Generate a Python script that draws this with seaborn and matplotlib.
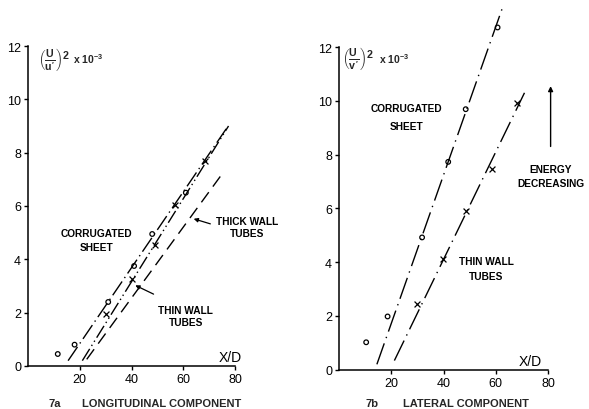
import pandas as pd
import matplotlib
matplotlib.use('Agg')
import matplotlib.pyplot as plt
import seaborn as sns

# 7a longitudinal component
long_corr_x = [11.5, 18, 31, 41, 48, 61]
long_corr_y = [0.45, 0.8, 2.4, 3.75, 4.95, 6.5]
long_thin_x = [30, 40, 49, 57, 68.5]
long_thin_y = [1.95, 3.25, 4.55, 6.05, 7.7]

# fitted lines (end points)
long_corr_line_x = [15.5, 77]
long_corr_line_y = [0.2, 8.95]
long_thin_line_x = [21, 77.5]
long_thin_line_y = [0.2, 9.0]
long_thick_line_x = [22.7, 75]
long_thick_line_y = [0.25, 7.2]

# 7b lateral component
lat_corr_x = [10.4, 18.6, 31.8, 41.8, 48.5, 60.7]
lat_corr_y = [1.02, 1.98, 4.92, 7.73, 9.69, 12.73]
lat_thin_x = [29.9, 39.9, 48.8, 58.7, 68.3]
lat_thin_y = [2.44, 4.11, 5.89, 7.46, 9.91]

lat_corr_line_x = [14.5, 62.7]
lat_corr_line_y = [0.2, 13.5]
lat_thin_line_x = [21.2, 71]
lat_thin_line_y = [0.34, 10.3]

x_ticks = [20, 40, 60, 80]
y_ticks = [0, 2, 4, 6, 8, 10, 12]

sns.set_theme(style='ticks')
plt.rcParams['font.family'] = ['Liberation Sans', 'DejaVu Sans']
plt.rcParams['mathtext.fontset'] = 'custom'
plt.rcParams['mathtext.rm'] = 'Liberation Sans:bold'
plt.rcParams['mathtext.it'] = 'Liberation Sans:bold'
plt.rcParams['mathtext.bf'] = 'Liberation Sans:bold'

fig = plt.figure(figsize=(5.89, 4.10), dpi=100)
ax1 = fig.add_axes([28 / 589, 43 / 410, 207 / 589, 320 / 410])
ax2 = fig.add_axes([339 / 589, 39.3 / 410, 209 / 589, 371 / 410])

lab = dict(fontsize=7.3, fontweight='bold', ha='center', va='center', color='black')
dashdot = (0, (12, 3, 1, 3))


def style_axis(ax, ytop):
    ax.set_xlim(0, 80)
    ax.set_ylim(0, ytop)
    ax.set_xticks(x_ticks)
    ax.set_yticks(y_ticks)
    ax.spines['left'].set_bounds(0, 12)
    sns.despine(ax=ax)
    for s in ['left', 'bottom']:
        ax.spines[s].set_color('black')
        ax.spines[s].set_linewidth(1.1)
    ax.tick_params(axis='both', colors='black', labelsize=9, width=1,
                   length=3, pad=2)
    ax.set_xlabel('')
    ax.set_ylabel('')
    ax.set_facecolor('none')


# ---- 7a
ax1.plot(long_corr_line_x, long_corr_line_y, color='black', lw=1, ls=dashdot)
ax1.plot(long_thin_line_x, long_thin_line_y, color='black', lw=1, ls=(0, (10, 2.5, 1, 2.5, 1, 2.5)))
ax1.plot(long_thick_line_x, long_thick_line_y, color='black', lw=1, ls=(0, (9, 5)))
sns.scatterplot(x=long_corr_x, y=long_corr_y, ax=ax1, marker='o', s=11,
                facecolor='none', edgecolor='black', linewidth=0.9)
sns.scatterplot(x=long_thin_x, y=long_thin_y, ax=ax1, marker='x', s=18,
                color='black', linewidth=0.9)
style_axis(ax1, 12)

ax1.text(26.6, 5.0, 'CORRUGATED', **lab)
ax1.text(26.6, 4.45, 'SHEET', **lab)
ax1.text(84.5, 5.45, 'THICK WALL', **lab)
ax1.text(84.5, 5.0, 'TUBES', **lab)
ax1.annotate('', xy=(63, 5.55), xytext=(71.5, 5.3),
             arrowprops=dict(arrowstyle='-|>', color='black', lw=0.9, mutation_scale=6),
             annotation_clip=False)
ax1.text(61, 2.1, 'THIN WALL', **lab)
ax1.text(61, 1.65, 'TUBES', **lab)
ax1.annotate('', xy=(40.5, 3.07), xytext=(49.5, 2.65),
             arrowprops=dict(arrowstyle='-|>', color='black', lw=0.9, mutation_scale=6))
ax1.text(78, 0.32, 'X/D', fontsize=10, ha='center', va='center', color='black')
ax1.text(4.0, 11.55, r"$\left(\frac{U}{u'}\right)^2$", fontsize=11, ha='left', va='center')
ax1.text(17.5, 11.55, r'x 10$^{-3}$', fontsize=7.5, fontweight='bold', ha='left', va='center')

# ---- 7b
ax2.plot(lat_corr_line_x, lat_corr_line_y, color='black', lw=1, ls=(0, (16, 4, 1, 4)))
ax2.plot(lat_thin_line_x, lat_thin_line_y, color='black', lw=1, ls=(0, (16, 4, 1, 4)))
sns.scatterplot(x=lat_corr_x, y=lat_corr_y, ax=ax2, marker='o', s=11,
                facecolor='none', edgecolor='black', linewidth=0.9)
sns.scatterplot(x=lat_thin_x, y=lat_thin_y, ax=ax2, marker='x', s=18,
                color='black', linewidth=0.9)
style_axis(ax2, 13.8)

ax2.text(26, 9.75, 'CORRUGATED', **lab)
ax2.text(26, 9.05, 'SHEET', **lab)
ax2.text(56.3, 4.05, 'THIN WALL', **lab)
ax2.text(56.3, 3.5, 'TUBES', **lab)
ax2.text(81, 7.45, 'ENERGY', **lab)
ax2.text(81, 6.95, 'DECREASING', **lab)
ax2.annotate('', xy=(81, 10.65), xytext=(81, 8.2),
             arrowprops=dict(arrowstyle='-|>', color='black', lw=1, mutation_scale=7),
             annotation_clip=False)
ax2.text(73.3, 0.32, 'X/D', fontsize=10, ha='center', va='center', color='black')
ax2.text(1.3, 11.6, r"$\left(\frac{U}{v'}\right)^2$", fontsize=11, ha='left', va='center')
ax2.text(15.5, 11.6, r'x 10$^{-3}$', fontsize=7.5, fontweight='bold', ha='left', va='center')

# captions
cap = dict(fontsize=8, fontweight='bold', va='center')
fig.text(55 / 589, 0.015, '7a', ha='center', **cap)
fig.text(82 / 589, 0.015, 'LONGITUDINAL COMPONENT', ha='left', **cap)
fig.text(372 / 589, 0.015, '7b', ha='center', **cap)
fig.text(403 / 589, 0.015, 'LATERAL COMPONENT', ha='left', **cap)

fig.savefig('out.png', dpi=100, facecolor='white')
